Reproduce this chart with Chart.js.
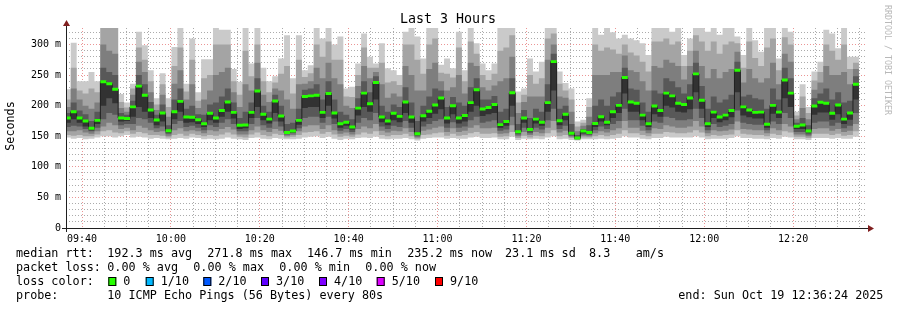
<!DOCTYPE html>
<html>
<head>
<meta charset="utf-8">
<script src="https://cdn.jsdelivr.net/npm/chart.js@4.4.0/dist/chart.umd.min.js"></script>
<style>
  html, body { margin: 0; padding: 0; background: #fff; }
  #wrap { width: 897px; height: 310px; }
</style>
</head>
<body>
<div id="wrap"><canvas id="smoke" width="897" height="310"></canvas></div>
<script>
// SmokePing style "Last 3 Hours" graph, one sample every 80 s, 10 pings each.
// Values in ms.

const xTickLabels = ['09:40', '10:00', '10:20', '10:40', '11:00', '11:20', '11:40', '12:00', '12:20'];
const yTickLabels = ['0', '50 m', '100 m', '150 m', '200 m', '250 m', '300 m'];

// sorted pings per step: ping1 = fastest ... ping10 = slowest, median = 6th
const ping1 = [148,146,147,145,146,148,150,150,148,150, 152,148,149,148,146,147,146,145,146,147,
  146,148,147,145,146,145,146,148,146,145, 144,147,148,146,145,147,146,145,145,146,
  148,149,150,147,149,146,144,146,145,147, 148,147,149,146,145,146,146,147,145,143,
  146,147,148,148,146,147,146,146,148,149, 147,147,148,145,145,149,144,146,145,146,
  145,148,150,145,146,144,143,145,145,145, 146,145,146,147,150,148,148,146,145,147,
  147,149,148,148,148,148,150,148,145,146, 146,146,147,150,147,147,146,146,145,147,
  146,149,148,145,145,144,147,147,147,146, 147,146,146,149];
const ping2 = [152,151,152,150,150,153,158,160,156,155, 158,154,157,155,152,152,151,148,152,154,
  151,154,152,150,152,151,153,156,153,149, 148,153,156,152,150,154,152,148,149,152,
  156,157,158,154,157,153,149,151,149,153, 156,154,158,152,150,152,152,154,150,146,
  152,153,155,156,151,154,151,152,155,157, 154,154,155,149,150,157,147,151,148,151,
  150,155,160,150,152,147,144,148,148,150, 152,150,152,154,160,155,155,152,150,154,
  154,157,156,155,155,156,160,156,150,152, 151,152,153,160,154,153,152,152,150,154,
  152,158,156,149,149,147,154,154,154,152, 154,151,152,158];
const ping3 = [158,158,160,156,154,158,166,172,168,162, 164,160,167,164,160,157,158,151,160,163,
  158,160,158,155,160,158,162,165,161,153, 153,160,166,160,157,162,159,151,152,158,
  166,168,168,162,168,160,154,156,153,162, 166,163,170,159,156,159,158,163,157,148,
  159,161,164,166,157,163,157,159,164,168, 163,163,164,154,155,168,150,157,152,157,
  155,164,175,156,159,149,145,151,150,155, 158,156,160,163,175,164,164,159,155,163,
  162,168,166,164,164,166,175,166,155,160, 158,159,161,174,162,161,160,160,155,163,
  160,170,166,153,153,150,162,163,163,159, 162,157,159,170];
const ping4 = [165,167,166,162,158,164,178,188,185,168, 170,170,180,178,172,163,166,154,170,175,
  165,167,164,160,168,165,172,178,170,158, 158,170,180,168,164,174,166,153,155,163,
  180,182,182,172,182,170,159,162,157,172, 180,176,188,166,162,167,165,175,164,150,
  166,170,175,178,164,173,164,166,176,182, 172,174,176,159,161,182,153,164,155,164,
  161,176,195,162,167,151,146,153,152,160, 166,162,170,175,195,176,176,167,160,174,
  172,182,180,176,176,178,195,180,160,170, 165,167,170,192,172,170,169,169,160,174,
  170,188,180,157,157,153,172,174,174,167, 172,163,167,188];
const ping5 = [172,178,172,166,160,170,200,212,204,174, 175,182,198,190,180,168,174,156,178,190,
  172,173,170,165,176,172,182,190,179,162, 163,180,198,176,171,188,174,154,156,169,
  196,198,198,180,200,179,164,167,161,184, 198,190,210,173,168,176,173,188,172,152,
  174,180,187,194,171,186,171,174,190,200, 183,186,188,164,167,200,155,172,158,171,
  167,190,225,168,176,153,146.5,155,154,165, 174,168,180,188,220,190,190,176,165,186,
  182,200,197,190,189,194,222,195,165,180, 173,176,181,222,184,181,179,179,164,187,
  180,212,198,162,162,156,185,189,189,177, 186,170,177,210];
const median = [180,190,180,175,163,176,239,236,227,180, 179,198,232,217,193,176.5,188,159,190,207,
  181.5,181,177,170.5,187.5,180,192,206,189,168, 168.5,189,224,186,178,207.5,183,156,158.5,176,
  215,216,217,189,220,188,170.5,173,165,196, 220.5,203,238,181.5,175,187.5,182.5,206,181.5,154,
  183.5,191,201,212.5,180,200,180,184,205,226, 194.5,197,202,169,174,221,157.5,180,161,178,
  173,205,272,175.5,186,155,147,158.5,156,171, 182,173,190,200.5,246,206,204,184.5,170.5,199.5,
  192,220.5,216,204,202,212.5,252,209,170.5,189.5, 181.5,184.5,192,258,198,193,189,189.5,169.5,200.5,
  189.5,242,220.5,166.5,168.5,158.5,199.5,205.5,204,187.5, 201,178,188,235];
const ping7 = [188,205,192,186,175,190,262,255,250,188, 185,208,250,235,206,185,202,168,210,228,
  195,200,186,185,202,205,215,228,205,180, 190,205,245,200,190,218,200,170,172,195,
  226,228,235,210,240,210,190,185,178,212, 240,222,248,200,190,202,198,230,205,175,
  200,215,228,225,198,214,205,200,230,245, 210,210,216,190,195,245,170,193,180,195,
  190,235,285,195,200,170,152,162,168,200, 210,200,215,222,262,228,226,205,190,225,
  220,245,240,230,220,235,270,232,195,215, 205,210,218,272,215,218,212,210,195,228,
  210,262,245,172,180,168,212,220,228,210, 222,205,208,248];
const ping8 = [198,228,210,200,195,205,300,290,285,196, 190,218,272,255,222,193,218,182,236,258,
  210,235,196,210,225,250,255,262,222,198, 235,225,270,218,206,228,225,210,195,235,
  236,240,262,245,270,245,235,200,196,232, 265,245,255,235,213,220,215,265,250,225,
  225,260,270,240,225,230,250,220,270,265, 230,225,233,240,245,280,188,206,215,215,
  215,275,300,215,213,190,158,167,182,250, 250,250,255,255,282,258,255,240,225,265,
  262,275,270,265,243,265,290,265,245,260, 245,255,260,288,238,260,245,238,245,270,
  235,285,272,178,196,178,226,238,265,250, 250,255,235,260];
const ping9 = [210,262,225,220,228,222,330,330,330,206, 197,228,295,275,240,202,235,198,265,295,
  223,275,208,245,250,300,300,300,240,218, 290,248,300,240,222,238,252,265,220,275,
  247,253,300,280,305,275,275,215,214,250, 295,262,262,270,238,240,234,300,300,275,
  252,300,310,254,252,246,295,240,305,285, 250,242,252,290,295,315,205,218,250,236,
  245,310,318,236,225,210,166,172,198,300, 290,295,292,285,300,287,282,272,256,305,
  305,310,300,305,265,290,315,305,290,305, 285,300,305,302,262,305,278,265,295,310,
  258,312,300,184,215,188,241,255,300,290, 275,300,260,270];
const ping10 = [227,303,240,240,255,240,330,330,330,219, 205,236,321,299,258,212,253,212,296,330,
  236,310,222,276,276,330,324,324,260,239, 330,269,330,262,240,248,277,315,245,315,
  258,266,330,310,330,300,313,228,231,269, 318,280,269,302,261,258,250,321,330,313,
  277,330,330,267,277,261,321,258,330,302, 269,258,269,330,330,330,223,228,277,256,
  272,330,330,256,237,228,174,177,212,330, 316,330,320,310,316,310,307,302,283,330,
  330,330,321,330,283,310,330,330,321,330, 316,330,330,313,283,330,307,288,330,330,
  277,330,321,190,235,198,256,272,324,318, 294,330,280,280];

const smokeColors = ['#cacaca', '#a4a4a4', '#7e7e7e', '#585858', '#323232'];
const lossLabels = ['0', '1/10', '2/10', '3/10', '4/10', '5/10', '9/10'];
const lossColors = ['#26ff00', '#00b8ff', '#0059ff', '#5e00ff', '#7e00ff', '#dd00ff', '#ff0000'];

// time axis in minutes from 09:36:24, steps of 80 s, first step starts 16 s early
const stepMin = 80 / 60;
const firstStep = -16 / 60;
const lossBarHalf = 2.4;

const minorGrid = 'rgba(143,143,143,0.75)';
const majorGrid = 'rgba(222,79,79,0.6)';
const monoFont = "'DejaVu Sans Mono', monospace";

function stepPoints(values) {
    const pts = values.map((v, i) => ({ x: firstStep + i * stepMin, y: v }));
    pts.push({ x: firstStep + values.length * stepMin, y: values[values.length - 1] });
    return pts;
}

const xGridMinutes = [];
for (let m = 3.6; m < 180; m += 5) xGridMinutes.push(m);
const yGridValues = [];
for (let v = 0; v <= 320; v += 10) yGridValues.push(v);

const base = {
    pointRadius: 0,
    borderWidth: 0,
    borderColor: 'rgba(0,0,0,0)',
    stepped: true,
    fill: false
};

const datasets = [
    { ...base, data: stepPoints(ping1) },                                                      // 0
    { ...base, data: stepPoints(ping2) },                                                      // 1
    { ...base, data: stepPoints(ping3) },                                                      // 2
    { ...base, data: stepPoints(ping4) },                                                      // 3
    { ...base, data: stepPoints(ping5) },                                                      // 4
    { ...base, data: stepPoints(ping10), fill: 0, backgroundColor: smokeColors[0], order: 9 },
    { ...base, data: stepPoints(ping9), fill: 1, backgroundColor: smokeColors[1], order: 8 },
    { ...base, data: stepPoints(ping8), fill: 2, backgroundColor: smokeColors[2], order: 7 },
    { ...base, data: stepPoints(ping7), fill: 3, backgroundColor: smokeColors[3], order: 6 },
    { ...base, data: stepPoints(median), fill: 4, backgroundColor: smokeColors[4], order: 5 },
    { ...base, data: stepPoints(median.map(v => v - lossBarHalf)) },                            // 10
    { ...base, data: stepPoints(median), borderColor: '#202020', borderWidth: 1, order: 2 },
    { ...base, data: stepPoints(median.map(v => v + lossBarHalf)), fill: 10, backgroundColor: lossColors[0], order: 1 }
];

// title, legend lines, axis arrows
const decorations = {
    id: 'decorations',
    afterDraw(chart) {
        const ctx = chart.ctx;
        const a = chart.chartArea;
        ctx.save();

        // axes
        ctx.strokeStyle = '#1f1f1f';
        ctx.lineWidth = 1;
        ctx.beginPath();
        ctx.moveTo(62, a.bottom + 0.5);
        ctx.lineTo(a.right + 2, a.bottom + 0.5);
        ctx.moveTo(a.left + 0.5, a.bottom + 4);
        ctx.lineTo(a.left + 0.5, a.top - 3);
        ctx.stroke();

        ctx.fillStyle = '#801f1f';
        ctx.beginPath();
        ctx.moveTo(a.left - 3, a.top - 2);
        ctx.lineTo(a.left + 4, a.top - 2);
        ctx.lineTo(a.left + 0.5, a.top - 8);
        ctx.closePath();
        ctx.fill();
        ctx.beginPath();
        ctx.moveTo(a.right + 2, a.bottom - 3);
        ctx.lineTo(a.right + 2, a.bottom + 4);
        ctx.lineTo(a.right + 8, a.bottom + 0.5);
        ctx.closePath();
        ctx.fill();

        // title
        ctx.fillStyle = '#000';
        ctx.textBaseline = 'middle';
        ctx.textAlign = 'center';
        ctx.font = '13.3px ' + monoFont;
        ctx.fillText('Last 3 Hours', 448, 20);

        // y title
        ctx.font = '11.75px ' + monoFont;
        ctx.save();
        ctx.translate(11, 126);
        ctx.rotate(-Math.PI / 2);
        ctx.fillText('Seconds', 0, 0);
        ctx.restore();

        // legend
        ctx.textAlign = 'left';
        const rows = [
            [254, [[16, 'median rtt:'], [107.3, '192.3 ms avg'], [207.3, '271.8 ms max'], [307, '146.7 ms min'],
                   [407.3, '235.2 ms now'], [505, '23.1 ms sd'], [589, '8.3'], [635.7, 'am/s']]],
            [268, [[16, 'packet loss:'], [107.3, '0.00 % avg'], [193.3, '0.00 % max'], [279.3, '0.00 % min'], [365.3, '0.00 % now']]],
            [282, [[16, 'loss color:']]],
            [296, [[16, 'probe:'], [107.3, '10 ICMP Echo Pings (56 Bytes) every 80s'], [678.3, 'end: Sun Oct 19 12:36:24 2025']]]
        ];
        rows.forEach(([y, items]) => {
            items.forEach(([x, txt]) => ctx.fillText(txt, x, y));
        });

        const boxX = [108.3, 145.7, 203.3, 261, 319, 376.7, 435];
        lossLabels.forEach((lbl, i) => {
            ctx.fillStyle = lossColors[i];
            ctx.fillRect(boxX[i], 277, 8, 9);
            ctx.strokeStyle = '#000';
            ctx.strokeRect(boxX[i] + 0.5, 277.5, 7, 8);
            ctx.fillStyle = '#000';
            ctx.fillText(lbl, boxX[i] + 15, 282);
        });

        // watermark
        ctx.fillStyle = '#b8b8b8';
        ctx.font = '8.3px ' + monoFont;
        ctx.translate(887, 5);
        ctx.rotate(Math.PI / 2);
        ctx.fillText('RRDTOOL / TOBI OETIKER', 0, 0);

        ctx.restore();
    }
};

new Chart(document.getElementById('smoke'), {
    type: 'line',
    data: { datasets: datasets },
    options: {
        responsive: false,
        animation: false,
        events: [],
        layout: { padding: { top: 28, right: 31, left: 0, bottom: 0 } },
        plugins: {
            legend: { display: false },
            tooltip: { enabled: false },
            title: { display: false }
        },
        scales: {
            x: {
                type: 'linear',
                min: 0,
                max: 180,
                z: 1,
                afterBuildTicks: scale => { scale.ticks = xGridMinutes.map(v => ({ value: v })); },
                afterFit: scale => { scale.height = 82; },
                ticks: {
                    autoSkip: false,
                    maxRotation: 0,
                    minRotation: 0,
                    padding: 5,
                    color: '#000',
                    font: { family: monoFont, size: 10 },
                    callback: (value, index) => index % 4 === 0 ? xTickLabels[index / 4] : ''
                },
                grid: {
                    drawTicks: false,
                    color: c => c.index % 4 === 0 ? majorGrid : minorGrid
                },
                border: { display: false, dash: [1, 2] }
            },
            y: {
                type: 'linear',
                min: 0,
                max: 327,
                z: 1,
                afterBuildTicks: scale => { scale.ticks = yGridValues.map(v => ({ value: v })); },
                afterFit: scale => { scale.width = 66; },
                ticks: {
                    autoSkip: false,
                    padding: 5,
                    color: '#000',
                    font: { family: monoFont, size: 10 },
                    callback: (value, index) => index % 5 === 0 ? yTickLabels[index / 5] : ''
                },
                grid: {
                    drawTicks: false,
                    color: c => c.index % 5 === 0 ? majorGrid : minorGrid
                },
                border: { display: false, dash: [1, 2] }
            }
        }
    },
    plugins: [decorations]
});
</script>
</body>
</html>
